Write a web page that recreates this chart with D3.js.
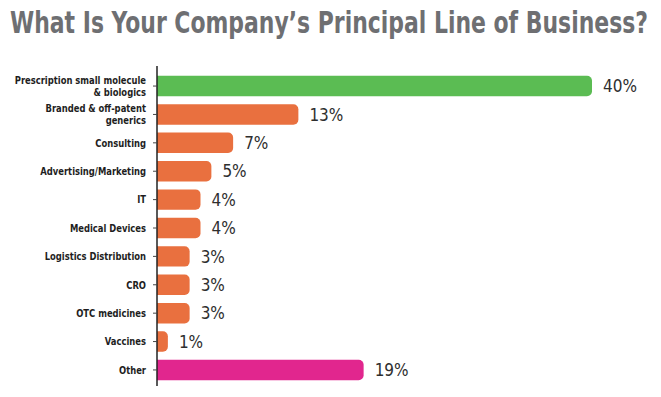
<!DOCTYPE html>
<html>
<head>
<meta charset="utf-8">
<script src="https://cdn.jsdelivr.net/npm/d3@7"></script>
<style>
  body { margin: 0; background: #fff; }
  svg { display: block; }
</style>
</head>
<body>
<div id="chart"></div>
<script>
// chart size
const width = 661;
const height = 397;
const margin = { top: 73, right: 69, bottom: 11, left: 157 };

// data
const categories = [
  "Prescription small molecule\n& biologics",
  "Branded & off-patent\ngenerics",
  "Consulting",
  "Advertising/Marketing",
  "IT",
  "Medical Devices",
  "Logistics Distribution",
  "CRO",
  "OTC medicines",
  "Vaccines",
  "Other"
];
const values = [40, 13, 7, 5, 4, 4, 3, 3, 3, 1, 19];
const barColors = ["#5bbc53", "#e9703f", "#e9703f", "#e9703f", "#e9703f", "#e9703f",
  "#e9703f", "#e9703f", "#e9703f", "#e9703f", "#e1268e"];

const svg = d3.select("#chart")
  .append("svg")
  .attr("width", width)
  .attr("height", height);

// title, squeezed a little in width
svg.append("text")
  .attr("transform", "translate(10,33) scale(1,1.22)")
  .attr("textLength", 638)
  .attr("lengthAdjust", "spacingAndGlyphs")
  .style("font-family", "'DejaVu Sans Condensed', 'DejaVu Sans', sans-serif")
  .style("font-weight", "bold")
  .style("font-size", "24px")
  .style("fill", "#6e6f72")
  .text("What Is Your Company\u2019s Principal Line of Business?");

const g = svg.append("g")
  .attr("transform", "translate(" + margin.left + "," + margin.top + ")");

const innerH = height - margin.top - margin.bottom;

// scales
const x = d3.scaleLinear()
  .domain([0, 40])
  .range([0, 435]);

const y = d3.scaleBand()
  .domain(categories)
  .range([0, innerH - 3])
  .paddingInner(0.28)
  .paddingOuter(0.1);

// bar path with rounded right end only
function barPath(w, h) {
  const r = Math.min(5, w, h / 2);
  return "M0,0H" + (w - r) +
    "A" + r + "," + r + " 0 0 1 " + w + "," + r +
    "V" + (h - r) +
    "A" + r + "," + r + " 0 0 1 " + (w - r) + "," + h +
    "H0Z";
}

g.selectAll(".bar")
  .data(values)
  .enter()
  .append("path")
  .attr("class", "bar")
  .attr("transform", function(d, i) { return "translate(0," + y(categories[i]) + ")"; })
  .attr("d", function(d) { return barPath(x(d), y.bandwidth()); })
  .attr("fill", function(d, i) { return barColors[i]; });

// value labels
g.selectAll(".val")
  .data(values)
  .enter()
  .append("text")
  .attr("class", "val")
  .attr("x", function(d) { return x(d) + 11; })
  .attr("y", function(d, i) { return y(categories[i]) + y.bandwidth() / 2; })
  .attr("dy", "0.36em")
  .style("font-family", "'DejaVu Sans Condensed', 'DejaVu Sans', sans-serif")
  .style("font-size", "17px")
  .style("fill", "#2e2e2e")
  .text(function(d) { return d + "%"; });

// y axis
const yAxis = g.append("g")
  .call(d3.axisLeft(y).tickSize(4).tickSizeOuter(0).tickFormat(""));

yAxis.select(".domain")
  .attr("d", "M0,-7V" + innerH)
  .attr("stroke", "#222")
  .attr("stroke-width", 1.5);
yAxis.selectAll(".tick line").attr("stroke", "#444");

// category labels, narrowed to look condensed
const labelG = g.append("g")
  .attr("transform", "translate(-11,0) scale(0.85,1)");

const labels = labelG.selectAll(".cat")
  .data(categories)
  .enter()
  .append("text")
  .attr("class", "cat")
  .attr("text-anchor", "end")
  .attr("x", 0)
  .attr("y", function(d) { return y(d) + y.bandwidth() / 2; })
  .style("font-family", "'DejaVu Sans Condensed', 'DejaVu Sans', sans-serif")
  .style("font-weight", "bold")
  .style("font-size", "11px")
  .style("fill", "#1e1e1e");

labels.each(function(d) {
  const lines = d.split("\n");
  const t = d3.select(this);
  lines.forEach(function(line, k) {
    t.append("tspan")
      .attr("x", 0)
      .attr("dy", k === 0 ? (0.35 - (lines.length - 1) * 0.53) + "em" : "1.06em")
      .text(line);
  });
});
</script>
</body>
</html>
